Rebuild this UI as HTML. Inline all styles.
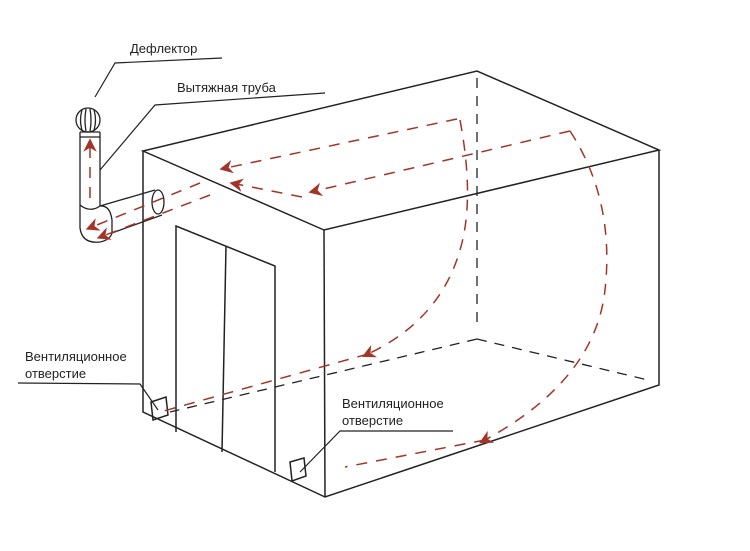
<!DOCTYPE html>
<html><head><meta charset="utf-8"><style>
html,body{margin:0;padding:0;background:#fff;width:750px;height:551px;overflow:hidden}
text{font-family:"Liberation Sans","DejaVu Sans",sans-serif;font-size:13px;fill:#222}
</style></head><body>
<svg width="750" height="551" viewBox="0 0 750 551" xmlns="http://www.w3.org/2000/svg">
<defs>
<marker id="a" viewBox="0 0 10 10" refX="5" refY="5" markerWidth="9" markerHeight="9" orient="auto-start-reverse">
<path d="M0,0 L10,5 L0,10 L3,5 Z" fill="#a23528"/></marker>
</defs>
<g fill="none" stroke="#222" stroke-width="1.5">
<!-- box -->
<path d="M143,151 L477,71 L659,150 L324,230 Z"/>
<path d="M143,151 L143,412 L325,497 L659,385 L659,150"/>
<path d="M324,230 L325,497"/>
<!-- door -->
<path d="M176,432 L176,226 L275,266 L275,472"/>
<path d="M226,246 L222,452"/>
<!-- vents -->
<path d="M151,402 L166,397 L168,415 L153,420 Z"/>
<path d="M290,462 L304,458 L306,476 L292,481 Z"/>
</g>
<g fill="none" stroke="#222" stroke-width="1.3" stroke-dasharray="10,8">
<path d="M477,78 L477,330"/>
<path d="M477,339 L648,380"/>
<path d="M477,339 L170,412"/>
</g>
<!-- pipe -->
<g fill="none" stroke="#222" stroke-width="1.3">
<circle cx="88" cy="120" r="12"/>
<path d="M82,110 Q79,120 82,130 M86,109 Q84,120 86,131 M90,109 Q92,120 90,131 M94,110 Q97,120 94,130"/>
<path d="M80,132 L100,132 M80,137 L100,137"/>
<path d="M80,132 L80,228 Q82,244 100,242 Q110,240 112,233 M100,132 L100,206"/>
<path d="M80,205 Q90,213 100,206 Q110,205 112,220 L112,233"/>
<path d="M100,206 L155,190 M112,233 L162,215"/>
<ellipse cx="158" cy="202" rx="6" ry="12"/>
</g>
<!-- red flows -->
<g fill="none" stroke="#a23528" stroke-width="1.5" stroke-dasharray="11,9">
<path d="M457,119 L226,168" marker-end="url(#a)"/>
<path d="M570,131 L315,191" marker-end="url(#a)"/>
<path d="M302,197 L236,184" marker-end="url(#a)"/>
<path d="M200,183 L92,227" marker-end="url(#a)"/>
<path d="M210,195 L103,236" marker-end="url(#a)"/>
<path d="M90,198 L90,145" marker-end="url(#a)"/>
<path d="M460,120 Q475,200 460,250 Q440,320 368,354" marker-end="url(#a)"/>
<path d="M368,354 L160,412"/>
<path d="M570,131 Q615,200 605,290 Q595,380 485,440" marker-end="url(#a)"/>
<path d="M485,440 L345,467"/>
</g>
<!-- labels -->
<text x="130" y="53">Дефлектор</text>
<text x="177" y="92">Вытяжная труба</text>
<text x="25" y="361">Вентиляционное</text>
<text x="25" y="378">отверстие</text>
<text x="342" y="408">Вентиляционное</text>
<text x="342" y="425">отверстие</text>
<g fill="none" stroke="#222" stroke-width="1.2">
<path d="M95,97 L115,63 L222,58"/>
<path d="M100,170 L155,105 L325,93"/>
<path d="M18,383 L140,384 L158,410"/>
<path d="M300,472 L340,431 L453,431"/>
</g>
</svg>
</body></html>
